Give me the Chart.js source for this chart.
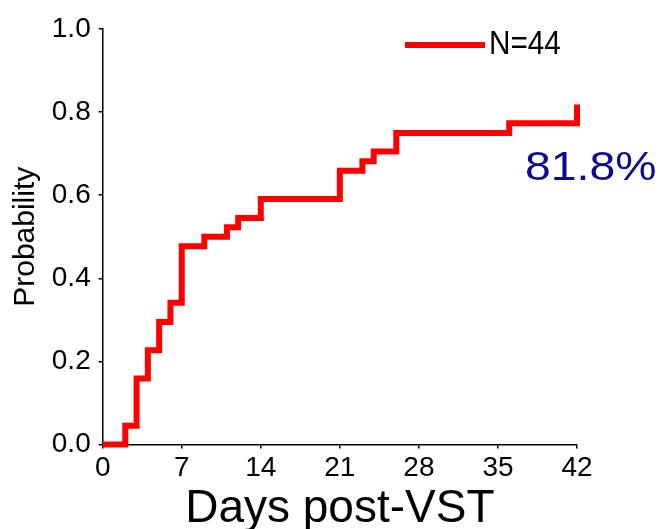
<!DOCTYPE html>
<html>
<head>
<meta charset="utf-8">
<script src="https://cdn.jsdelivr.net/npm/chart.js@4.4.1/dist/chart.umd.min.js"></script>
<style>
  html, body { margin: 0; padding: 0; background: #fff; }
  canvas { display: block; }
</style>
</head>
<body>
<canvas id="cumChart" width="661" height="529"></canvas>
<script>
// step curve (n = 44)
const days = [0, 2, 3, 4, 5, 6, 7, 9, 11, 12, 14, 21, 23, 24, 26, 36, 42];
const probability = [0, 0.045, 0.159, 0.227, 0.295, 0.341, 0.477, 0.5, 0.523, 0.545, 0.591, 0.659, 0.682, 0.705, 0.75, 0.773, 0.818];
const xTicks = [0, 7, 14, 21, 28, 35, 42];
const yTicks = [0, 0.2, 0.4, 0.6, 0.8, 1.0];
const seriesLabel = "N=44";
const finalLabel = "81.8%";

const FONT = "'Liberation Sans', Arial, Helvetica, sans-serif";

// legend line + end value, drawn after the chart
const labelsPlugin = {
  id: "labels",
  afterDraw(chart) {
    const ctx = chart.ctx;
    const area = chart.chartArea;
    const ds = chart.data.datasets[0];
    ctx.save();
    // legend
    const ly = area.top + 16;
    ctx.strokeStyle = ds.borderColor;
    ctx.lineWidth = 6;
    ctx.beginPath();
    ctx.moveTo(area.right - 172, ly);
    ctx.lineTo(area.right - 92, ly);
    ctx.stroke();
    ctx.fillStyle = "#000";
    ctx.font = "33px " + FONT;
    ctx.textBaseline = "middle";
    ctx.textAlign = "left";
    ctx.save();
    ctx.translate(area.right - 88, ly);
    ctx.scale(0.9, 1);
    ctx.fillText(ds.label, 0, 0);
    ctx.restore();
    // final percentage
    ctx.fillStyle = "#0b0b96";
    ctx.font = "40px " + FONT;
    ctx.textBaseline = "alphabetic";
    ctx.translate(area.right - 52, area.top + 151);
    ctx.scale(1.16, 1);
    ctx.fillText(finalLabel, 0, 0);
    ctx.restore();
  }
};

new Chart(document.getElementById("cumChart"), {
  type: "line",
  data: {
    datasets: [{
      label: seriesLabel,
      data: days.map((d, i) => ({ x: d, y: probability[i] })),
      borderColor: "#ff0000",
      backgroundColor: "#ff0000",
      borderWidth: 6,
      stepped: true,
      pointRadius: 0,
      fill: false,
      clip: false
    }]
  },
  options: {
    responsive: false,
    animation: false,
    devicePixelRatio: 1,
    layout: { padding: { top: 29, right: 84, bottom: 0, left: 0 } },
    plugins: {
      legend: { display: false },
      tooltip: { enabled: false }
    },
    scales: {
      x: {
        type: "linear",
        min: 0,
        max: 42,
        afterBuildTicks: s => { s.ticks = xTicks.map(v => ({ value: v })); },
        afterFit: s => { s.height = 84.5; },
        ticks: {
          color: "#000",
          font: { family: FONT, size: 28 },
          padding: 3,
          maxRotation: 0,
          autoSkip: false
        },
        grid: { drawOnChartArea: false, drawTicks: true, tickLength: 4, color: "#000", lineWidth: 1.5 },
        border: { color: "#000", width: 1.5 },
        title: {
          display: true,
          text: "Days post-VST",
          color: "#000",
          font: { family: FONT, size: 46 },
          padding: { top: 0, bottom: -8 }
        }
      },
      y: {
        min: 0,
        max: 1,
        afterBuildTicks: s => { s.ticks = yTicks.map(v => ({ value: v })); },
        afterFit: s => { s.width = 102.7; },
        ticks: {
          color: "#000",
          font: { family: FONT, size: 28 },
          padding: 8,
          callback: v => v.toFixed(1)
        },
        grid: { drawOnChartArea: false, drawTicks: true, tickLength: 4, color: "#000", lineWidth: 1.5 },
        border: { color: "#000", width: 1.5 },
        title: {
          display: true,
          text: "Probability",
          color: "#000",
          font: { family: FONT, size: 30 },
          padding: { top: 8, bottom: 0 }
        }
      }
    }
  },
  plugins: [labelsPlugin]
});
</script>
</body>
</html>
